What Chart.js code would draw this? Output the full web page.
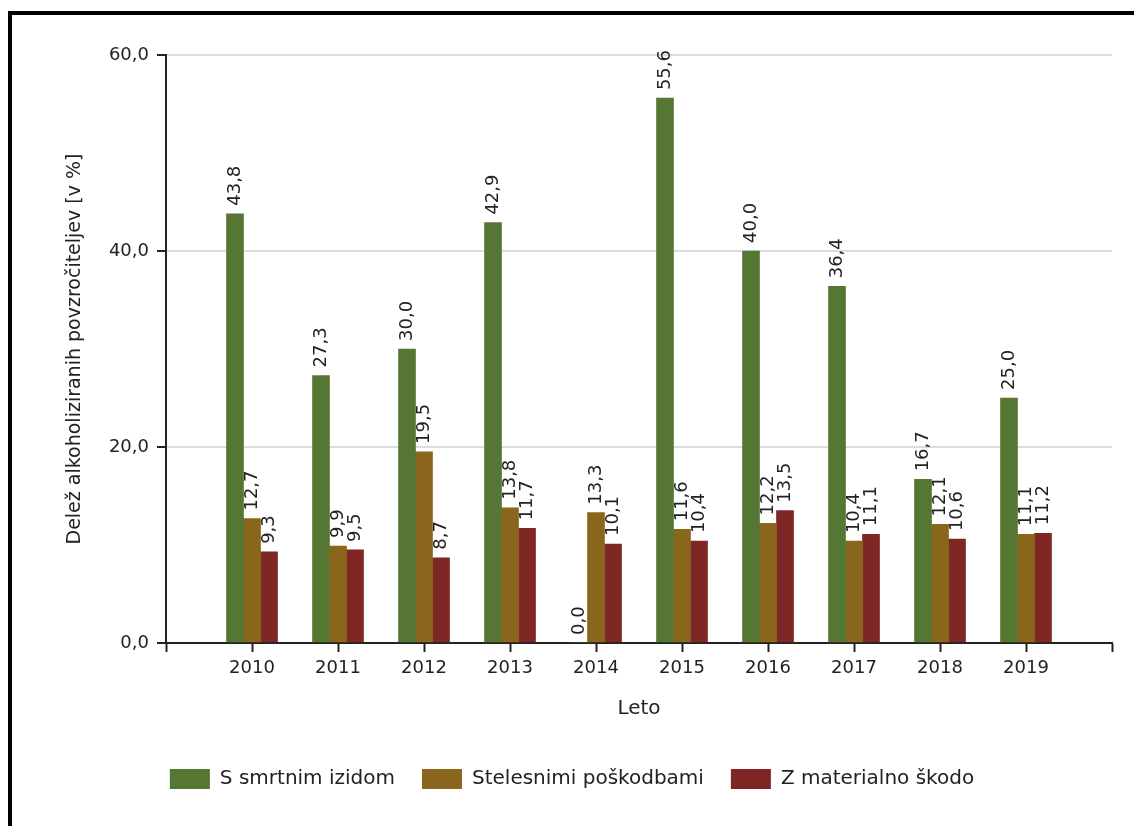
<!DOCTYPE html>
<html lang="sl">
<head>
    <meta charset="UTF-8">
    <title>Delež alkoholiziranih povzročiteljev</title>
    <script src="https://cdn.jsdelivr.net/npm/chart.js"></script>
    <style>
        html, body {
            margin: 0;
            padding: 0;
            background: #fff;
            overflow: hidden;
        }
        .okvir {
            position: absolute;
            left: 8px;
            top: 11px;
            width: 1200px;
            height: 900px;
            border: 4px solid #000;
        }
        .graf {
            position: absolute;
            left: 0;
            top: 0;
            width: 1134px;
            height: 826px;
        }
    </style>
</head>
<body>
    <div class="okvir"></div>
    <div class="graf">
        <canvas id="alkoholChart" width="1134" height="826"></canvas>
    </div>

    <script>
        // podatki
        const leta = ['2010', '2011', '2012', '2013', '2014', '2015', '2016', '2017', '2018', '2019'];
        const smrtni = [43.8, 27.3, 30.0, 42.9, 0.0, 55.6, 40.0, 36.4, 16.7, 25.0];
        const telesne = [12.7, 9.9, 19.5, 13.8, 13.3, 11.6, 12.2, 10.4, 12.1, 11.1];
        const materialne = [9.3, 9.5, 8.7, 11.7, 10.1, 10.4, 13.5, 11.1, 10.6, 11.2];
        const yTicks = [0, 20, 40, 60];

        const pisava = "'DejaVu Sans', sans-serif";

        // prazna mesta na obeh koncih osi
        const oznake = [''].concat(leta, ['']);
        const razsiri = arr => [null].concat(arr, [null]);

        const fmt = v => v.toFixed(1).replace('.', ',');

        // vrednosti nad stolpci, zasukane za 90 stopinj
        const vrednostiPlugin = {
            id: 'vrednosti',
            afterDatasetsDraw(chart) {
                const ctx = chart.ctx;
                ctx.save();
                ctx.font = "18px " + pisava;
                ctx.fillStyle = '#222';
                ctx.textAlign = 'left';
                ctx.textBaseline = 'middle';
                chart.data.datasets.forEach((ds, i) => {
                    const meta = chart.getDatasetMeta(i);
                    meta.data.forEach((bar, j) => {
                        const v = ds.data[j];
                        if (v === null || v === undefined) return;
                        ctx.save();
                        ctx.translate(bar.x, bar.y - 8);
                        ctx.rotate(-Math.PI / 2);
                        ctx.fillText(fmt(v), 0, 0);
                        ctx.restore();
                    });
                });
                ctx.restore();
            }
        };

        const ctx = document.getElementById('alkoholChart').getContext('2d');
        const alkoholChart = new Chart(ctx, {
            type: 'bar',
            data: {
                labels: oznake,
                datasets: [{
                    label: 'S smrtnim izidom',
                    data: razsiri(smrtni),
                    backgroundColor: '#567634'
                }, {
                    label: 'Stelesnimi poškodbami',
                    data: razsiri(telesne),
                    backgroundColor: '#8a651c'
                }, {
                    label: 'Z materialno škodo',
                    data: razsiri(materialne),
                    backgroundColor: '#7e2725'
                }]
            },
            options: {
                responsive: false,
                animation: false,
                devicePixelRatio: 1,
                barThickness: 17,
                layout: {
                    padding: { left: 32, right: 22, top: 55, bottom: 27 }
                },
                plugins: {
                    legend: {
                        position: 'bottom',
                        labels: {
                            boxWidth: 40,
                            boxHeight: 20,
                            padding: 27,
                            color: '#222',
                            font: { family: pisava, size: 20 }
                        }
                    },
                    tooltip: { enabled: false }
                },
                scales: {
                    x: {
                        offset: false,
                        afterFit(scale) { scale.height = 99; },
                        border: { color: '#222', width: 2 },
                        grid: {
                            offset: false,
                            drawOnChartArea: false,
                            drawTicks: true,
                            tickLength: 9,
                            tickColor: '#222',
                            tickWidth: 2
                        },
                        ticks: {
                            autoSkip: false,
                            maxRotation: 0,
                            padding: 6,
                            color: '#222',
                            font: { family: pisava, size: 18 }
                        },
                        title: {
                            display: true,
                            text: 'Leto',
                            color: '#222',
                            padding: { top: 0, bottom: 21 },
                            font: { family: pisava, size: 20 }
                        }
                    },
                    y: {
                        min: 0,
                        max: 60,
                        afterFit(scale) { scale.width = 134; },
                        afterBuildTicks(scale) {
                            scale.ticks = yTicks.map(v => ({ value: v }));
                        },
                        border: { color: '#222', width: 2 },
                        grid: {
                            color: '#dcdcdc',
                            lineWidth: 2,
                            tickLength: 9,
                            tickColor: '#222',
                            tickWidth: 2
                        },
                        ticks: {
                            padding: 8,
                            color: '#222',
                            font: { family: pisava, size: 18 },
                            callback: v => fmt(v)
                        },
                        title: {
                            display: true,
                            text: 'Delež alkoholiziranih povzročiteljev [v %]',
                            color: '#222',
                            padding: { top: 32, bottom: 0 },
                            font: { family: pisava, size: 19 }
                        }
                    }
                }
            },
            plugins: [vrednostiPlugin]
        });
    </script>
</body>
</html>
